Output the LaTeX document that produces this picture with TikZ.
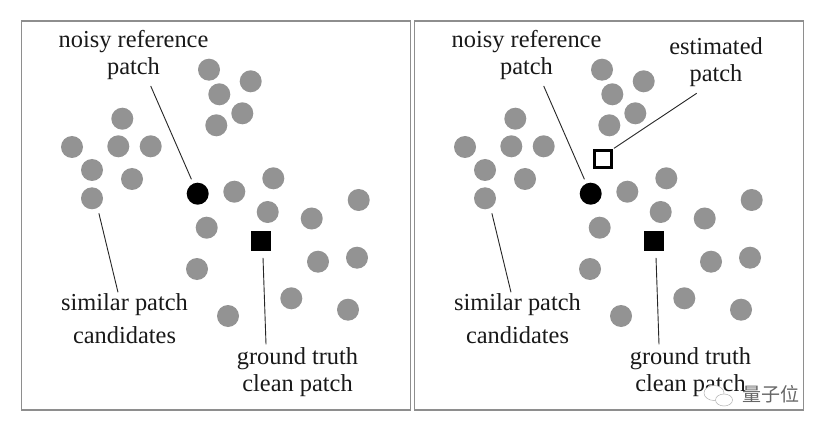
\documentclass[tikz,border=0pt]{standalone}
\usepackage{fontspec}
\setmainfont{Liberation Serif}
\newfontfamily\cjkfont{Noto Sans CJK SC}
\usepackage{tikz}
\usetikzlibrary{shapes.geometric}
\definecolor{dotgray}{HTML}{939393}
\definecolor{framegray}{HTML}{8E8E8E}
\tikzset{
	% Node styles for the patches: similar, reference and clean
	gray node/.style={circle,fill=dotgray,inner sep=0,minimum size=22pt},
	black node/.style={circle,fill=black,inner sep=0,minimum size=22pt},
	square node/.style={rectangle,fill=black,inner sep=0,minimum size=20pt},
	open node/.style={rectangle,draw=black,line width=3pt,fill=white,inner sep=0,minimum size=17.2pt},
	text node/.style={align=center,inner sep=0,font=\fontsize{24.4}{27}\selectfont,text=black!90},
	leader/.style={draw=black!85,line width=0.9pt},
	frame/.style={draw=framegray,line width=1.1pt},
	bubble/.style={ellipse,draw=black!30,line width=0.5pt,fill=white,inner sep=0}
}
% One panel: the frame, the patches and the labels that both panels share
\newcommand{\patchpanel}{
	\draw[frame] (21.5,21) rectangle (410.5,410);
	% Upper cluster
	\node(u1)[gray node] at (209,69.7){};
	\node(u2)[gray node] at (250.7,81.3){};
	\node(u3)[gray node] at (219.3,94.3){};
	\node(u4)[gray node] at (242.3,113.3){};
	\node(u5)[gray node] at (216.3,125.3){};
	% Left cluster
	\node(l1)[gray node] at (122.3,118.7){};
	\node(l2)[gray node] at (72,147){};
	\node(l3)[gray node] at (118.3,146.3){};
	\node(l4)[gray node] at (150.7,146.3){};
	\node(l5)[gray node] at (92,170){};
	\node(l6)[gray node] at (132,179){};
	\node(l7)[gray node] at (92,198.3){};
	% Right cluster
	\node(r1)[gray node] at (234.3,191.7){};
	\node(r2)[gray node] at (273.3,178.3){};
	\node(r3)[gray node] at (267.7,212){};
	\node(r4)[gray node] at (311.7,218.5){};
	\node(r5)[gray node] at (358.7,200){};
	\node(r6)[gray node] at (206.7,227.7){};
	\node(r7)[gray node] at (197,269){};
	\node(r8)[gray node] at (318,261.7){};
	\node(r9)[gray node] at (357,257.7){};
	\node(r10)[gray node] at (291.3,298.3){};
	\node(r11)[gray node] at (228,316){};
	\node(r12)[gray node] at (348,309.7){};
	% Reference and clean patch
	\node(ref)[black node] at (197.7,193.7){};
	\node(clean)[square node] at (261,241.3){};
	% Labels
	\node(noisy)[text node] at (133.5,55.5){noisy reference\\patch};
	\node(similar)[text node] at (124.5,318.5){similar patch\\[6pt]candidates};
	\node(truth)[text node] at (297.5,372){ground truth\\clean patch};
	\coordinate(noisy end) at (150.7,86);
	\coordinate(similar end) at (118,292.3);
	\coordinate(truth end) at (266,344.3);
	\draw[leader,shorten >=4.5pt] (noisy end) -- (ref);
	\draw[leader,shorten <=5.5pt] (l7.-60) -- (similar end);
	\draw[leader,shorten <=6.4pt] (clean.-80) -- (truth end);
}

\begin{document}
\begin{tikzpicture}[x=1pt,y=-1pt]
	\useasboundingbox (0,0) rectangle (826,430);
	\fill[white] (0,0) rectangle (826,430);
	\begin{scope}[name prefix=a-]
		\patchpanel
	\end{scope}
	\begin{scope}[name prefix=b-,xshift=393pt]
		\patchpanel
	\end{scope}
	% Estimated patch, right panel only
	\node(estimated)[open node] at (603,159){};
	\node(estimated label)[text node] at (716,62){estimated\\patch};
	\coordinate(estimated end) at (696.7,93.3);
	\draw[leader,shorten >=1pt] (estimated end) -- (estimated.north east);
	% Watermark
	\node(bubble a)[bubble,minimum width=20pt,minimum height=15pt] at (714,393){};
	\node(bubble b)[bubble,minimum width=17pt,minimum height=12pt] at (724,400){};
	\node(mark)[inner sep=0,font=\cjkfont\fontsize{19}{19}\selectfont,text=black!60] at (770.5,394.5){量子位};
\end{tikzpicture}
\end{document}
